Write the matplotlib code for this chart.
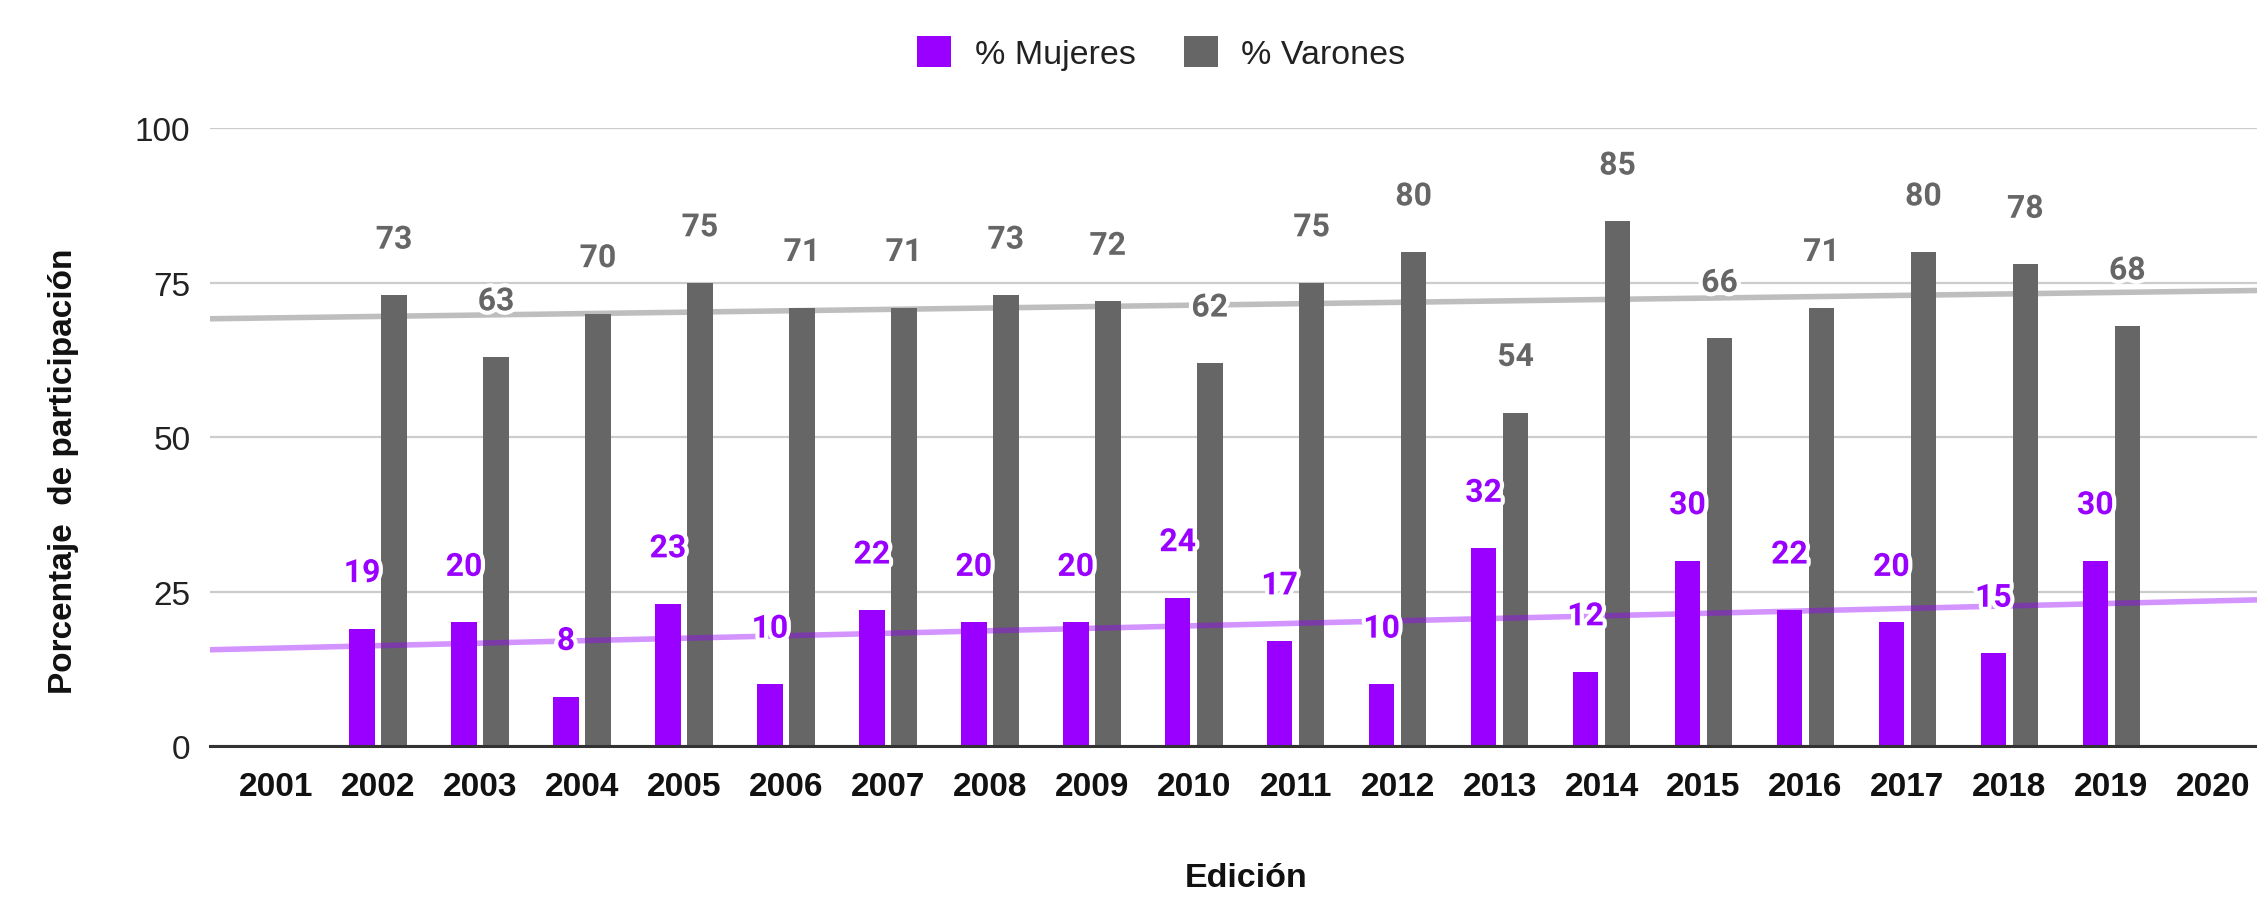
import numpy as np
import matplotlib.pyplot as plt
import matplotlib.patheffects as pe

# === Data ===
years = [str(y) for y in range(2001, 2021)]
# editions with data: 2002..2019 (2001 and 2020 empty)
mujeres = [None, 19, 20, 8, 23, 10, 22, 20, 20, 24, 17, 10, 32, 12, 30, 22, 20, 15, 30, None]
varones = [None, 73, 63, 70, 75, 71, 71, 73, 72, 62, 75, 80, 54, 85, 66, 71, 80, 78, 68, None]

# === Style ===
c_muj = '#9900ff'
c_var = '#666666'
bar_w = 0.25
off = 0.157
label_gap = 9  # label centre above the bar top, in data units
x_pad = 0.65   # empty space left/right of the first/last category

fig = plt.figure(figsize=(22.57, 9.03), dpi=100)
# right edge goes past the figure, the reference is cropped there
ax = fig.add_axes([0.093, 0.1728, 0.917, 0.6838])

x = np.arange(len(years))
m = np.array([np.nan if v is None else v for v in mujeres], dtype=float)
v = np.array([np.nan if v is None else v for v in varones], dtype=float)

ax.bar(x - off, m, width=bar_w, color=c_muj, zorder=3, label='% Mujeres')
ax.bar(x + off, v, width=bar_w, color=c_var, zorder=3, label='% Varones')

# linear trend lines across the whole axis (semi transparent, drawn over bars)
xx = np.array([-x_pad, len(years) - 1 + x_pad])
for vals, col in [(m, c_muj), (v, c_var)]:
    ok = ~np.isnan(vals)
    k, b = np.polyfit(x[ok], vals[ok], 1)
    ax.plot(xx, k * xx + b, color=col, alpha=0.42, lw=4, zorder=4, solid_capstyle='butt')

# value labels with white halo
halo = [pe.withStroke(linewidth=6, foreground='white')]
for vals, dx, col in [(m, -off, c_muj), (v, off, c_var)]:
    for i, val in enumerate(vals):
        if np.isnan(val):
            continue
        ax.text(i + dx, val + label_gap, f'{int(val)}', ha='center', va='center',
                fontsize=23, fontweight='bold', color=col, family='Roboto',
                path_effects=halo, zorder=6)

ax.set_xlim(-x_pad, len(years) - 1 + x_pad)
ax.set_ylim(0, 100)
ax.set_yticks([0, 25, 50, 75, 100])
ax.set_xticks(x)
ax.set_xticklabels(years, fontsize=24, fontweight='bold', family='Liberation Sans', color='#111111')
for t in ax.get_yticklabels():
    t.set_fontsize(24)
    t.set_family('Liberation Sans')
    t.set_color('#222222')
ax.tick_params(axis='both', length=0)
ax.tick_params(axis='x', pad=18)
ax.tick_params(axis='y', pad=14)

ax.grid(axis='y', color='#cccccc', lw=1.6, zorder=0)
for s in ['top', 'right', 'left']:
    ax.spines[s].set_visible(False)
ax.spines['bottom'].set_color('#333333')
ax.spines['bottom'].set_linewidth(2.2)
ax.spines['bottom'].set_zorder(5)

fig.text(0.028, 0.478, 'Porcentaje  de participación', rotation=90, ha='center', va='center',
         fontsize=24, fontweight='bold', family='Liberation Sans', color='#111111')
fig.text(0.552, 0.0266, 'Edición', ha='center', va='center',
         fontsize=24.5, fontweight='bold', family='Liberation Sans', color='#111111')

fig.legend(loc='center', bbox_to_anchor=(0.5146, 0.94), ncol=2, frameon=False,
           prop={'family': 'Liberation Sans', 'size': 24.5}, labelcolor='#222222',
           handlelength=1.0, handleheight=1.0, columnspacing=1.4, handletextpad=0.7)

plt.savefig('out.png', dpi=100)
